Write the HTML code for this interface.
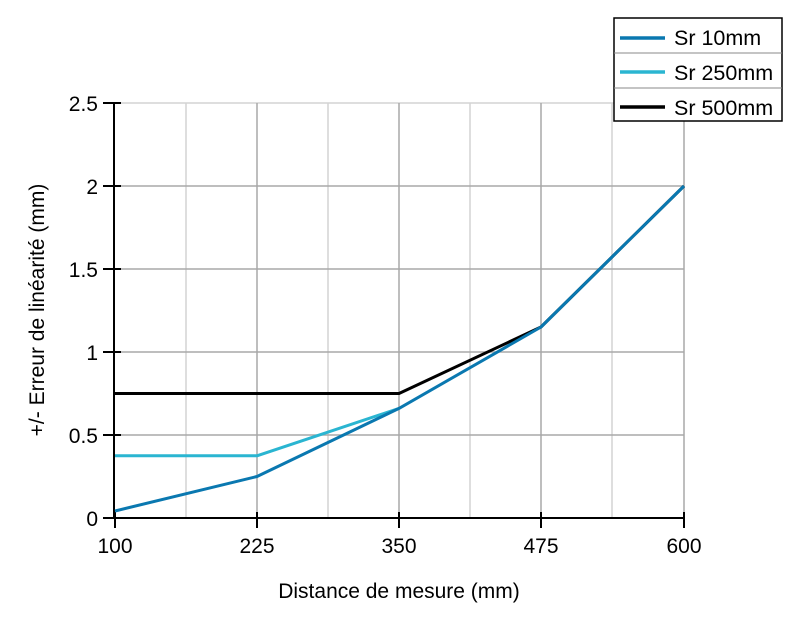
<!DOCTYPE html><html><head><style>body{margin:0;background:#fff}svg{font-family:"Liberation Sans",sans-serif}</style></head><body>
<svg width="800" height="620" xmlns="http://www.w3.org/2000/svg">
<g stroke="#d4d4d4" stroke-width="1.5">
<line x1="186" y1="103" x2="186" y2="518"/><line x1="328" y1="103" x2="328" y2="518"/><line x1="470" y1="103" x2="470" y2="518"/><line x1="612" y1="103" x2="612" y2="518"/>
<line x1="115" y1="103" x2="684" y2="103"/>
</g>
<g stroke="#a8a8a8" stroke-width="1.5">
<line x1="257" y1="103" x2="257" y2="518"/><line x1="399" y1="103" x2="399" y2="518"/><line x1="541" y1="103" x2="541" y2="518"/><line x1="684" y1="103" x2="684" y2="518"/>
<line x1="115" y1="186" x2="684" y2="186"/><line x1="115" y1="269" x2="684" y2="269"/><line x1="115" y1="352" x2="684" y2="352"/><line x1="115" y1="435" x2="684" y2="435"/>
</g>
<g stroke="#000" stroke-width="2">
<line x1="114" y1="103" x2="114" y2="518"/><line x1="114" y1="518" x2="684" y2="518"/>
<line x1="103" y1="103" x2="121" y2="103"/><line x1="103" y1="186" x2="121" y2="186"/><line x1="103" y1="269" x2="121" y2="269"/><line x1="103" y1="352" x2="121" y2="352"/><line x1="103" y1="435" x2="121" y2="435"/><line x1="103" y1="518" x2="121" y2="518"/>
<line x1="115" y1="512" x2="115" y2="528"/><line x1="257" y1="512" x2="257" y2="528"/><line x1="399" y1="512" x2="399" y2="528"/><line x1="541" y1="512" x2="541" y2="528"/><line x1="684" y1="512" x2="684" y2="528"/>
</g>
<g fill="none" stroke-width="3" stroke-linejoin="round">
<polyline stroke="#000" points="115,393.5 399,393.5 541,327 684,186"/>
<polyline stroke="#2ab5d1" points="115,455.8 257,455.8 399,408.4"/>
<polyline stroke="#0a78b0" points="115,511 257,476.5 399,408.4 541,327 684,186"/>
</g>
<g font-size="21" text-anchor="end">
<text x="98" y="111">2.5</text><text x="98" y="194">2</text><text x="98" y="277">1.5</text><text x="98" y="360">1</text><text x="98" y="443">0.5</text><text x="98" y="526">0</text>
</g>
<g font-size="21" text-anchor="middle">
<text x="115" y="553">100</text><text x="257" y="553">225</text><text x="399" y="553">350</text><text x="541" y="553">475</text><text x="684" y="553">600</text>
<text x="399" y="598">Distance de mesure (mm)</text>
<text transform="translate(44,310) rotate(-90)">+/- Erreur de linéarité (mm)</text>
</g>
<rect x="614" y="18" width="168" height="103" fill="#fff" stroke="#000" stroke-width="1.5"/>
<line x1="614" y1="53" x2="782" y2="53" stroke="#888"/><line x1="614" y1="88" x2="782" y2="88" stroke="#888"/>
<line x1="620" y1="38" x2="665" y2="38" stroke="#0a78b0" stroke-width="3.5"/>
<line x1="620" y1="72" x2="665" y2="72" stroke="#2ab5d1" stroke-width="3.5"/>
<line x1="620" y1="107" x2="665" y2="107" stroke="#000" stroke-width="3.5"/>
<g font-size="21.5"><text x="674" y="45">Sr 10mm</text><text x="674" y="80">Sr 250mm</text><text x="674" y="115">Sr 500mm</text></g>
</svg></body></html>
